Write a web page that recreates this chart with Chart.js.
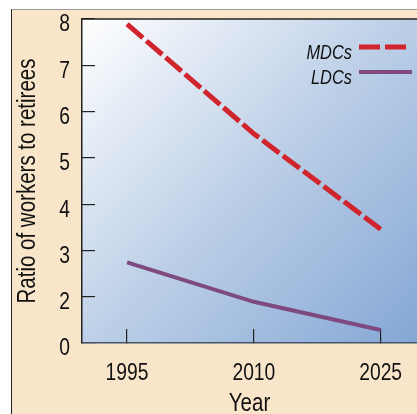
<!DOCTYPE html>
<html>
<head>
<meta charset="utf-8">
<script src="https://cdn.jsdelivr.net/npm/chart.js@4"></script>
<style>
  html, body { margin: 0; padding: 0; background: #fff; overflow: hidden; }
  #panel {
    position: absolute; left: 11px; top: 9px; width: 420px; height: 420px;
    background: #f9e6ca; border-left: 1.5px solid #222; border-top: 1px solid #999;
  }
  #wrap { position: absolute; left: 0; top: 0; width: 417px; height: 414px; }
</style>
</head>
<body>
<div id="panel"></div>
<div id="wrap"><canvas id="chart" width="417" height="414"></canvas></div>
<script>
// Valores
const years = [1995, 2010, 2025];
const mdcs = [7.89, 5.52, 3.46];
const ldcs = [2.74, 1.89, 1.28];
const xTicks = [1995, 2010, 2025];
const yTicks = [1, 2, 3, 4, 5, 6, 7, 8];
const yTickLabels = ['0', '2', '3', '4', '5', '6', '7', '8']; // eixo quebrado: a base aparece como 0

const FONT = "'Liberation Sans', Arial, sans-serif";
const NARROW = 0.82; // o original usa uma fonte estreita

const canvas = document.getElementById('chart');
const ctx = canvas.getContext('2d');

// Comprime o texto na horizontal para imitar a fonte estreita
const origFillText = ctx.fillText.bind(ctx);
ctx.fillText = function (text, x, y, maxWidth) {
  ctx.save();
  ctx.translate(x, y);
  ctx.scale(NARROW, 1);
  origFillText(text, 0, 0);
  ctx.restore();
};

// Fundo em degradê da área do gráfico
const plotBackground = {
  id: 'plotBackground',
  beforeDraw(chart) {
    const { ctx, chartArea: a } = chart;
    const g = ctx.createLinearGradient(a.left, a.top, a.right, a.bottom);
    g.addColorStop(0, '#ffffff');
    g.addColorStop(0.5, '#bccfe7');
    g.addColorStop(1, '#84a7d5');
    ctx.save();
    ctx.fillStyle = g;
    ctx.fillRect(a.left, a.top, a.right - a.left, a.bottom - a.top);
    ctx.strokeStyle = '#222';
    ctx.lineWidth = 1.5;
    ctx.beginPath();
    ctx.moveTo(a.left, a.top);
    ctx.lineTo(a.right, a.top);
    ctx.stroke();
    ctx.restore();
  }
};

// Legenda: texto à esquerda, amostra da linha à direita
const sideLegend = {
  id: 'sideLegend',
  afterDatasetsDraw(chart) {
    const ctx = chart.ctx;
    const rows = [{ y: 47, x2: 406 }, { y: 72, x2: 412 }];
    chart.data.datasets.forEach((ds, i) => {
      const r = rows[i];
      ctx.save();
      ctx.font = 'italic 20px ' + FONT;
      ctx.fillStyle = '#111';
      ctx.textAlign = 'right';
      ctx.textBaseline = 'alphabetic';
      ctx.fillText(ds.label, 352, r.y + 12);
      ctx.strokeStyle = ds.borderColor;
      ctx.lineWidth = ds.borderWidth;
      ctx.setLineDash(ds.borderDash ? [21, 5] : []);
      ctx.beginPath();
      ctx.moveTo(359, r.y);
      ctx.lineTo(r.x2, r.y);
      ctx.stroke();
      ctx.restore();
    });
  }
};

function noPadding(scale) {
  scale.paddingLeft = 0;
  scale.paddingRight = 0;
  scale.paddingTop = 0;
  scale.paddingBottom = 0;
}

new Chart(ctx, {
  type: 'line',
  data: {
    datasets: [
      {
        label: 'MDCs',
        data: years.map((y, i) => ({ x: y, y: mdcs[i] })),
        borderColor: '#d1252d',
        borderWidth: 5,
        borderDash: [21, 4.5],
        borderCapStyle: 'butt',
        pointRadius: 0,
        tension: 0
      },
      {
        label: 'LDCs',
        data: years.map((y, i) => ({ x: y, y: ldcs[i] })),
        borderColor: '#7e4a7f',
        borderWidth: 4,
        pointRadius: 0,
        tension: 0
      }
    ]
  },
  options: {
    responsive: false,
    animation: false,
    layout: { padding: { top: 19, left: 0, right: 0, bottom: 0 } },
    plugins: { legend: { display: false }, tooltip: { enabled: false } },
    scales: {
      x: {
        type: 'linear',
        min: 1989.67,
        max: 2029.3,
        afterBuildTicks(scale) { scale.ticks = xTicks.map(v => ({ value: v })); },
        afterFit(scale) { scale.height = 71; noPadding(scale); },
        border: { display: true, color: '#44546b', width: 1.5 },
        grid: { drawOnChartArea: false, tickLength: -14, color: '#222', lineWidth: 1.2 },
        ticks: {
          padding: 30,
          color: '#111',
          font: { family: FONT, size: 23.5 },
          callback: v => String(v),
          maxRotation: 0
        },
        title: {
          display: true, text: 'Year', color: '#111',
          font: { family: FONT, size: 25, lineHeight: '20px' },
          padding: { top: 0, bottom: 0 }
        }
      },
      y: {
        min: 1,
        max: 8,
        afterBuildTicks(scale) { scale.ticks = yTicks.map(v => ({ value: v })); },
        afterFit(scale) { scale.width = 82; noPadding(scale); },
        border: { display: true, color: '#222', width: 1.5 },
        grid: { drawOnChartArea: false, tickLength: -13, color: '#222', lineWidth: 1.2 },
        ticks: {
          padding: 25,
          labelOffset: 6,
          color: '#111',
          font: { family: FONT, size: 23.5 },
          callback: (v, i) => yTickLabels[i]
        },
        title: {
          display: true, text: 'Ratio of workers to retirees', color: '#111',
          font: { family: FONT, size: 25, lineHeight: 1.2 },
          padding: { top: 13, bottom: 0 }
        }
      }
    }
  },
  plugins: [plotBackground, sideLegend]
});
</script>
</body>
</html>
